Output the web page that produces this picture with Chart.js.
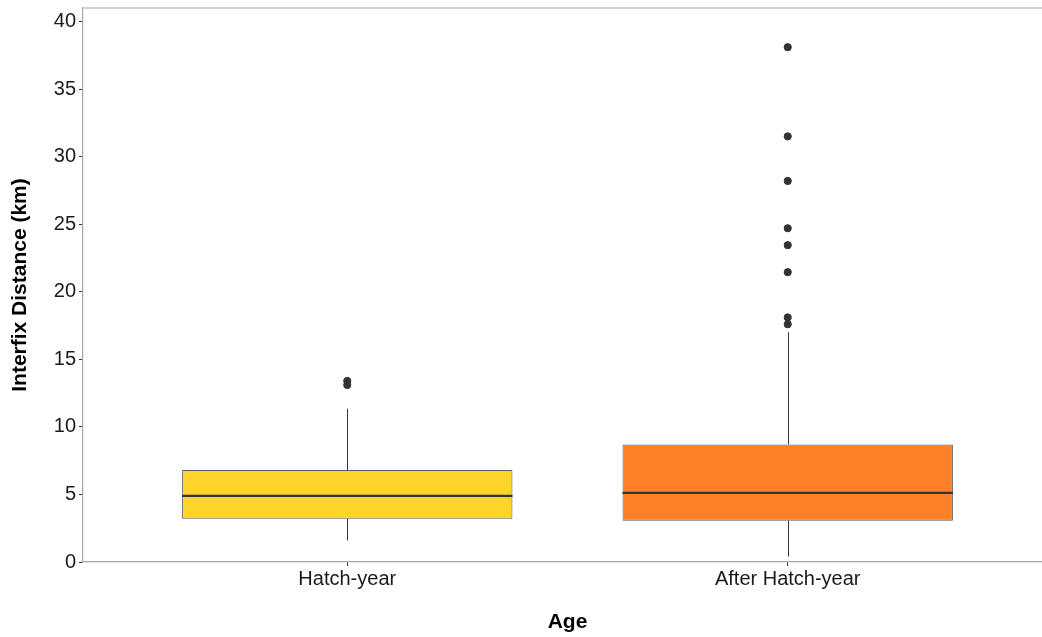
<!DOCTYPE html>
<html>
<head>
<meta charset="utf-8">
<script src="https://cdn.jsdelivr.net/npm/chart.js@4.4.1/dist/chart.umd.min.js"></script>
<style>
  html, body { margin: 0; padding: 0; background: #ffffff; overflow: hidden; }
  #wrap { position: relative; width: 1060px; height: 637px; }
</style>
</head>
<body>
<div id="wrap"><canvas id="chart"></canvas></div>
<script>
// Interfix distance (km) by age class: box-plot summaries
const ageGroups = ['Hatch-year', 'After Hatch-year'];
const groupPositions = [1, 2];
const whiskerLow = [1.6, 0.4];
const quartile1 = [3.2, 3.05];
const medians = [4.9, 5.12];
const quartile3 = [6.8, 8.7];
const whiskerHigh = [11.35, 17.0];
const outliersHatchYear = [13.1, 13.4];
const outliersAfterHatchYear = [17.6, 18.1, 21.45, 23.45, 24.7, 28.2, 31.5, 38.1];
const yTickValues = [0, 5, 10, 15, 20, 25, 30, 35, 40];
const boxColors = ['#FFD42A', '#FF7F27'];

const boxData = groupPositions.map((x, i) => ({ x: x, y: [quartile1[i], quartile3[i]] }));
const outlierData = [
  ...outliersHatchYear.map(v => ({ x: groupPositions[0], y: v })),
  ...outliersAfterHatchYear.map(v => ({ x: groupPositions[1], y: v }))
];

const fontFamily = 'Liberation Sans, Arial, sans-serif';

// Whiskers, medians and the upper panel border
const boxExtras = {
  id: 'boxExtras',
  afterDatasetsDraw(chart) {
    const { ctx, scales: { x, y }, chartArea } = chart;
    const meta = chart.getDatasetMeta(0);
    ctx.save();
    groupPositions.forEach((pos, i) => {
      const px = x.getPixelForValue(pos);
      const bar = meta.data[i];
      const half = bar.width / 2;
      ctx.strokeStyle = '#333333';
      ctx.lineWidth = 1;
      ctx.beginPath();
      ctx.moveTo(Math.round(px) + 0.5, y.getPixelForValue(quartile3[i]));
      ctx.lineTo(Math.round(px) + 0.5, y.getPixelForValue(whiskerHigh[i]));
      ctx.moveTo(Math.round(px) + 0.5, y.getPixelForValue(quartile1[i]));
      ctx.lineTo(Math.round(px) + 0.5, y.getPixelForValue(whiskerLow[i]));
      ctx.stroke();
      ctx.lineWidth = 2.2;
      ctx.beginPath();
      const my = y.getPixelForValue(medians[i]);
      ctx.moveTo(px - half, my);
      ctx.lineTo(px + half, my);
      ctx.stroke();
    });
    ctx.strokeStyle = '#a6a6a6';
    ctx.lineWidth = 1.2;
    ctx.beginPath();
    ctx.moveTo(chartArea.left, chartArea.top);
    ctx.lineTo(chartArea.right, chartArea.top);
    ctx.stroke();
    ctx.restore();
  }
};

new Chart(document.getElementById('chart'), {
  type: 'bar',
  data: {
    datasets: [
      {
        type: 'bar',
        data: boxData,
        backgroundColor: boxColors,
        borderColor: '#5a5a5a',
        borderWidth: 1,
        borderSkipped: false,
        barPercentage: 0.75,
        categoryPercentage: 1.0,
        order: 2
      },
      {
        type: 'scatter',
        data: outlierData,
        backgroundColor: '#333333',
        borderColor: '#333333',
        pointRadius: 3.6,
        pointHoverRadius: 3.6,
        order: 1
      }
    ]
  },
  plugins: [boxExtras],
  options: {
    responsive: true,
    maintainAspectRatio: false,
    animation: false,
    layout: { padding: { top: 8, right: 8, left: 0, bottom: 0 } },
    plugins: { legend: { display: false }, tooltip: { enabled: false } },
    scales: {
      x: {
        type: 'linear',
        min: 0.4,
        max: 2.6,
        offset: false,
        afterBuildTicks(scale) { scale.ticks = groupPositions.map(v => ({ value: v })); },
        afterFit(scale) { scale.height = 75; scale.paddingLeft = 0; scale.paddingRight = 0; },
        ticks: {
          callback: (v) => ageGroups[groupPositions.indexOf(v)],
          color: '#1a1a1a',
          font: { family: fontFamily, size: 20 },
          padding: 1,
          maxRotation: 0
        },
        grid: { offset: false, drawOnChartArea: false, drawTicks: true, tickLength: 4, color: '#333333' },
        border: { display: true, color: '#a6a6a6', width: 1.2 },
        title: {
          display: true,
          text: 'Age',
          color: '#000000',
          font: { family: fontFamily, size: 21, weight: 'bold' },
          padding: { top: 0, bottom: 2.4 }
        }
      },
      y: {
        type: 'linear',
        min: 0,
        max: 41,
        afterBuildTicks(scale) { scale.ticks = yTickValues.map(v => ({ value: v })); },
        afterFit(scale) { scale.width = 83; scale.paddingTop = 0; scale.paddingBottom = 0; },
        ticks: {
          color: '#1a1a1a',
          font: { family: fontFamily, size: 20 },
          padding: 3
        },
        grid: { drawOnChartArea: false, drawTicks: true, tickLength: 4, color: '#333333' },
        border: { display: true, color: '#a6a6a6', width: 1.2 },
        title: {
          display: true,
          text: 'Interfix Distance (km)',
          color: '#000000',
          font: { family: fontFamily, size: 21, weight: 'bold' },
          padding: { top: 7.4, bottom: 0 }
        }
      }
    }
  }
});
</script>
</body>
</html>
